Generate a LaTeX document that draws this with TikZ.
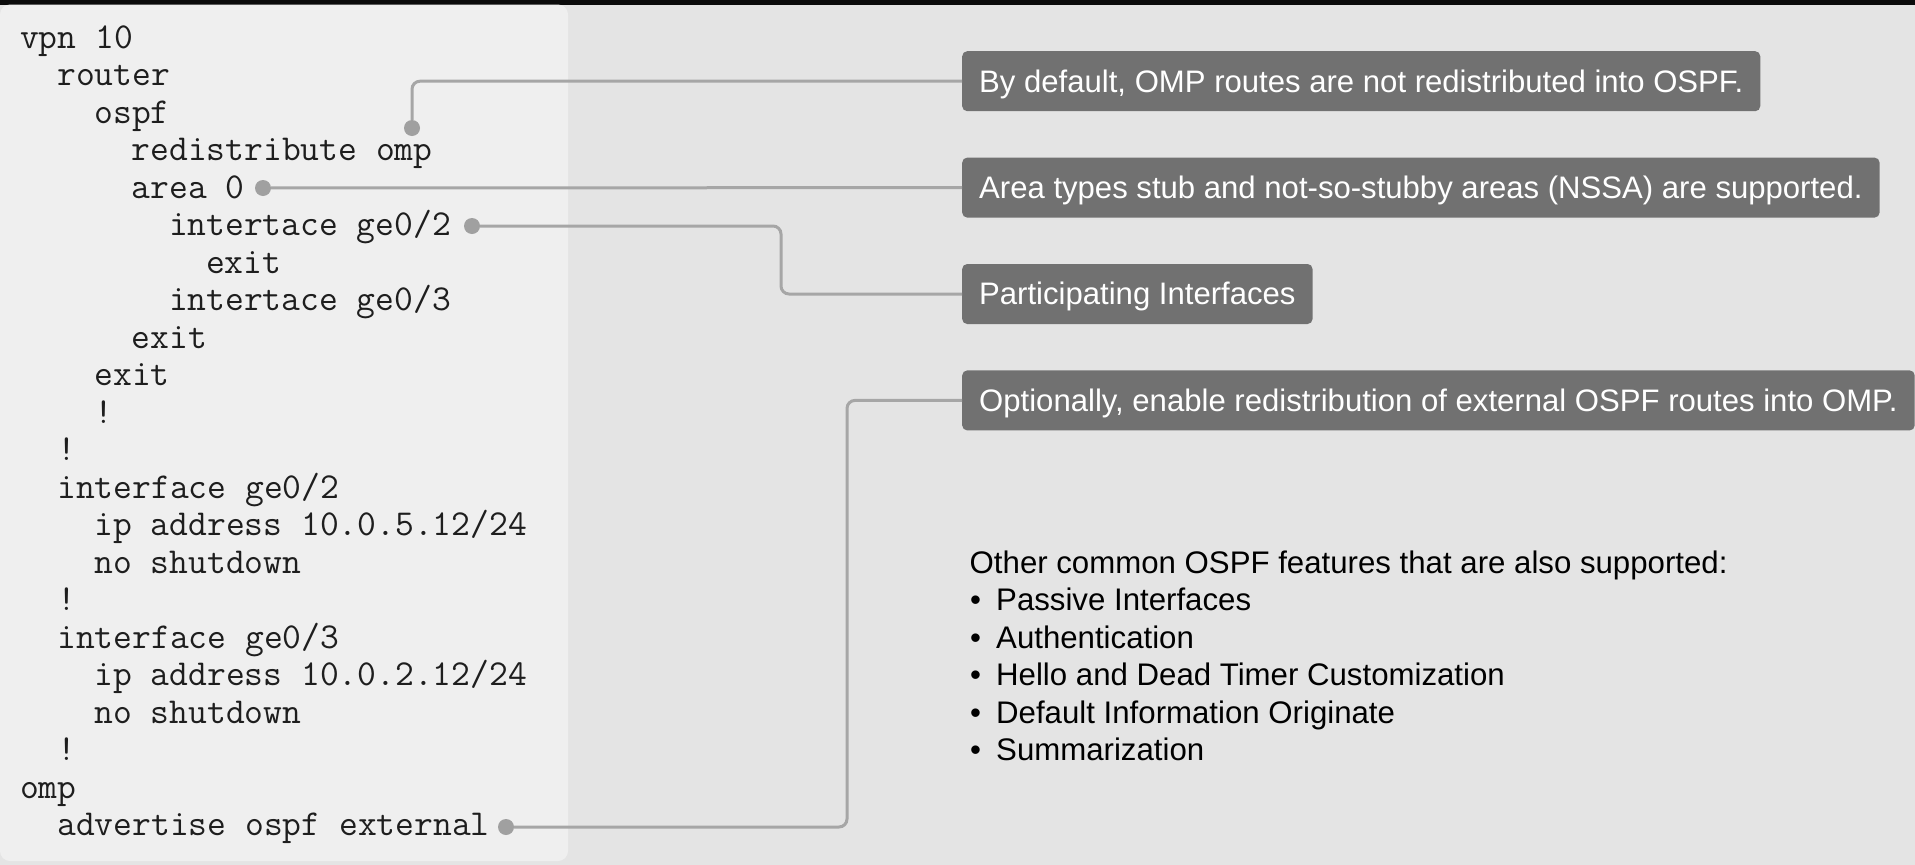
\documentclass[tikz,border=0pt]{standalone}
\usepackage{fontspec}
\setmainfont{Liberation Sans}
\setmonofont{Latin Modern Mono}
\usetikzlibrary{positioning}
\definecolor{barc}{HTML}{0B0B0B}
\definecolor{bgc}{HTML}{E4E4E4}
\definecolor{panelc}{HTML}{EFEFEF}
\definecolor{notec}{HTML}{717171}
\definecolor{connc}{HTML}{A6A6A6}
\definecolor{dotc}{HTML}{A0A0A0}
\definecolor{codec}{HTML}{1E1E1E}

\begin{document}
\begin{tikzpicture}[x=1pt, y=-1pt,
  code/.style={anchor=base west, inner sep=0pt, text=codec, font=\ttfamily\fontsize{36.5}{37.5}\selectfont},
  note/.style={fill=notec, rounded corners=5pt, text=white, font=\fontsize{31.1}{36}\selectfont, inner xsep=17pt, minimum height=60pt, text height=21.8pt, text depth=0pt},
  feat/.style={anchor=base west, inner sep=0pt, text=black, font=\fontsize{31.2}{37.5}\selectfont},
  conn/.style={draw=connc, line width=3pt, rounded corners=8pt},
  dot/.style={circle, fill=dotc, inner sep=0pt, minimum size=16pt},
  node distance=46pt
]
\useasboundingbox (0,0) rectangle (1915,865);
\fill[bgc] (0,0) rectangle (1915,865);
\fill[barc] (0,0) rectangle (1915,4.5);
\fill[panelc, rounded corners=10pt] (0,4.5) rectangle (568,861);

% configuration listing
\foreach \n/\t [count=\k from 0] in {0/{vpn 10}, 2/router, 4/ospf, 6/{redistribute omp}, 6/{area 0},
    8/{intertace ge0/2}, 10/exit, 8/{intertace ge0/3}, 6/exit, 4/exit, 4/!, 2/!,
    2/{interface ge0/2}, 4/{ip address 10.0.5.12/24}, 4/{no shutdown}, 2/!,
    2/{interface ge0/3}, 4/{ip address 10.0.2.12/24}, 4/{no shutdown}, 2/!,
    0/omp, 2/{advertise ospf external}}
  \node (l\k) [code] at (20+18.6*\n, 48+37.5*\k) {\t};

% callouts
\node (n1) [note, anchor=north west] at (962,51) {By default, OMP routes are not redistributed into OSPF.};
\node (n2) [note, below=of n1.south west, anchor=north west] {Area types stub and not-so-stubby areas (NSSA) are supported.};
\node (n3) [note, below=of n2.south west, anchor=north west] {Participating Interfaces};
\node (n4) [note, below=of n3.south west, anchor=north west] {Optionally, enable redistribution of external OSPF routes into OMP.};

\node (d1) [dot] at (412,128) {};
\node (d2) [dot] at (263,188) {};
\node (d3) [dot] at (472,226) {};
\node (d4) [dot] at (506,827) {};
\coordinate (k3) at (781,260);
\coordinate (k4) at (847,600);

\draw[conn] (d1) |- (n1.west);
\draw[conn] (d2) -- (n2.west);
\draw[conn] (d3) -- (d3 -| k3) |- (n3.west);
\draw[conn] (d4) -- (d4 -| k4) |- (n4.west);

% other features
\node (f0) [feat] at (969.5,573) {Other common OSPF features that are also supported:};
\foreach \t [count=\k] in {Passive Interfaces, Authentication, Hello and Dead Timer Customization,
    Default Information Originate, Summarization}
  \node (f\k) [feat] at (970, 573+37.5*\k) {\makebox[26pt][l]{\textbullet}\t};
\end{tikzpicture}
\end{document}
